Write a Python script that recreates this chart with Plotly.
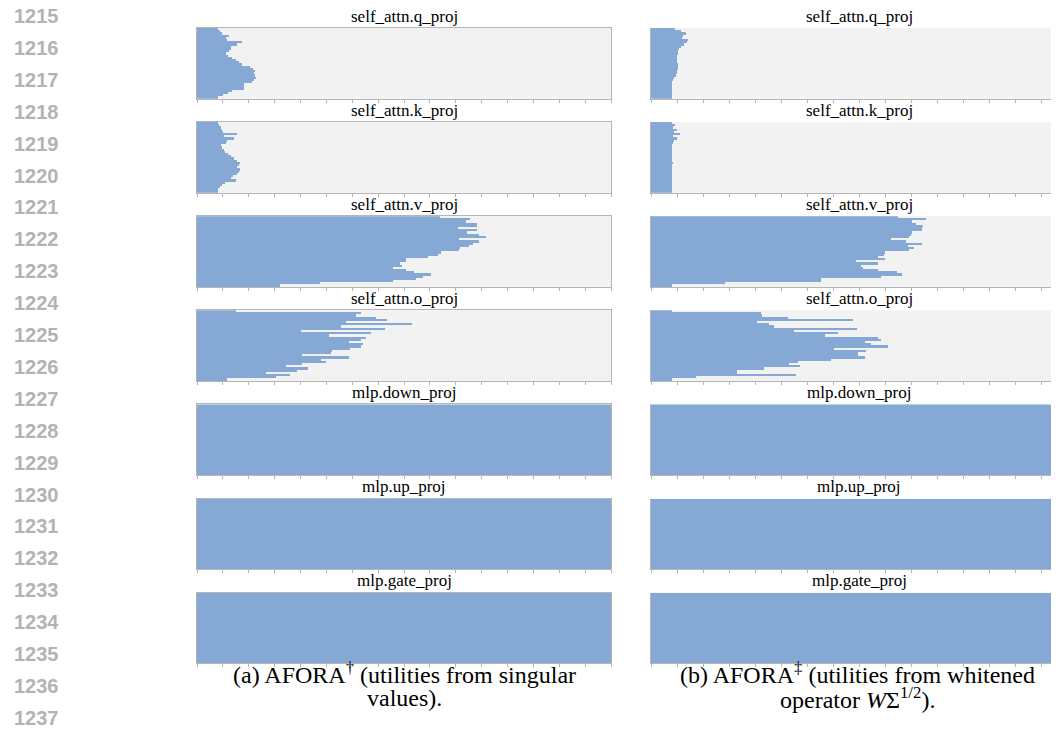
import plotly.graph_objects as go

# The page puts the figure 8 px in from the top-left corner of the window,
# so the figure is 8 px smaller than the window and all pixel positions are shifted by 8.
W, H = 1051, 732
OFF = 8

layers = list(range(32))
titles = ["self_attn.q_proj", "self_attn.k_proj", "self_attn.v_proj", "self_attn.o_proj",
          "mlp.down_proj", "mlp.up_proj", "mlp.gate_proj"]

# fraction of the full rank budget (mlp modules keep the full budget)
left_q = [0.051, 0.056, 0.060, 0.078, 0.071, 0.072, 0.109, 0.097, 0.082, 0.082, 0.077, 0.071,
          0.074, 0.085, 0.093, 0.101, 0.109, 0.129, 0.135, 0.141, 0.137, 0.141, 0.143, 0.137,
          0.133, 0.114, 0.113, 0.113, 0.085, 0.074, 0.063, 0.051]
left_k = [0.051, 0.053, 0.058, 0.060, 0.063, 0.097, 0.066, 0.089, 0.072, 0.071, 0.058, 0.060,
          0.064, 0.068, 0.074, 0.082, 0.089, 0.097, 0.103, 0.101, 0.097, 0.105, 0.101, 0.097,
          0.087, 0.082, 0.093, 0.067, 0.060, 0.055, 0.051, 0.051]
left_v = [0.586, 0.660, 0.649, 0.676, 0.676, 0.630, 0.676, 0.652, 0.680, 0.699, 0.633, 0.680,
          0.667, 0.657, 0.636, 0.634, 0.590, 0.582, 0.558, 0.504, 0.504, 0.491, 0.496, 0.473,
          0.504, 0.523, 0.566, 0.546, 0.528, 0.473, 0.296, 0.200]
left_o = [0.093, 0.397, 0.385, 0.433, 0.460, 0.359, 0.519, 0.349, 0.453, 0.250, 0.421, 0.320,
          0.409, 0.397, 0.367, 0.401, 0.397, 0.370, 0.327, 0.324, 0.254, 0.367, 0.300, 0.311,
          0.254, 0.216, 0.268, 0.242, 0.167, 0.225, 0.190, 0.072]
right_q = [0.058, 0.072, 0.083, 0.078, 0.074, 0.088, 0.086, 0.080, 0.072, 0.067, 0.066, 0.064,
           0.0625, 0.062, 0.0625, 0.062, 0.066, 0.066, 0.066, 0.0625, 0.0625, 0.059, 0.056, 0.054,
           0.050, 0.050, 0.050, 0.050, 0.050, 0.050, 0.050, 0.050]
right_k = [0.050, 0.058, 0.054, 0.062, 0.056, 0.070, 0.054, 0.062, 0.056, 0.054, 0.050, 0.050,
           0.050, 0.050, 0.050, 0.050, 0.050, 0.050, 0.054, 0.050, 0.050, 0.050, 0.050, 0.050,
           0.050, 0.050, 0.050, 0.050, 0.050, 0.050, 0.050, 0.050]
right_v = [0.593, 0.660, 0.627, 0.636, 0.655, 0.651, 0.651, 0.627, 0.625, 0.619, 0.577, 0.612,
           0.651, 0.617, 0.631, 0.620, 0.563, 0.561, 0.546, 0.563, 0.492, 0.546, 0.505, 0.510,
           0.546, 0.591, 0.604, 0.554, 0.409, 0.409, 0.179, 0.050]
right_o = [0.050, 0.264, 0.268, 0.330, 0.486, 0.254, 0.284, 0.296, 0.494, 0.344, 0.449, 0.418,
           0.545, 0.553, 0.514, 0.530, 0.569, 0.441, 0.518, 0.498, 0.498, 0.514, 0.433, 0.354,
           0.332, 0.358, 0.272, 0.206, 0.206, 0.348, 0.108, 0.050]
mlp_full = [1.0, 1.0, 1.0, 1.0, 1.0, 1.0, 1.0, 1.0, 1.0, 1.0, 1.0, 1.0, 1.0, 1.0, 1.0, 1.0,
            1.0, 1.0, 1.0, 1.0, 1.0, 1.0, 1.0, 1.0, 1.0, 1.0, 1.0, 1.0, 1.0, 1.0, 1.0, 1.0]

left_series = [left_q, left_k, left_v, left_o, mlp_full, mlp_full, mlp_full]
right_series = [right_q, right_k, right_v, right_o, mlp_full, mlp_full, mlp_full]

tick_vals = [0, 0.0625, 0.125, 0.1875, 0.25, 0.3125, 0.375, 0.4375, 0.5, 0.5625, 0.625,
             0.6875, 0.75, 0.8125, 0.875, 0.9375, 1.0]

caption_a = ["(a) AFORA<sup>†</sup> (utilities from singular", "values)."]
caption_b = ["(b) AFORA<sup>‡</sup> (utilities from whitened", "operator <i>W</i>Σ<sup>1/2</sup>)."]
line_numbers = list(range(1215, 1238))

BAR = "#86A8D5"
EDGE = "#B5B5B5"
SERIF = "Liberation Serif, Times New Roman, serif"


def px(x):
    return (x - OFF) / W


def py(y):
    return 1 - (y - OFF) / H


fig = go.Figure()
layout = dict(width=W, height=H, margin=dict(l=0, r=0, t=0, b=0),
              paper_bgcolor="white", plot_bgcolor="#F2F2F2", showlegend=False,
              bargap=0)
annotations = []

cols = [
    dict(x0=197, x1=611, full=414, series=left_series, mirror=True),
    dict(x0=651, x1=1059, full=416, series=right_series, mirror=False),
]

n = 0
for c, col in enumerate(cols):
    for k in range(7):
        n += 1
        top = 28 + 94.1 * k
        bot = top + 70.7
        xa = "xaxis" if n == 1 else f"xaxis{n}"
        ya = "yaxis" if n == 1 else f"yaxis{n}"
        xref = "x" if n == 1 else f"x{n}"
        yref = "y" if n == 1 else f"y{n}"
        fig.add_trace(go.Bar(x=col["series"][k], y=layers, orientation="h",
                             xaxis=xref, yaxis=yref, width=1.0,
                             marker=dict(color=BAR, line=dict(width=0)),
                             hoverinfo="skip"))
        layout[xa] = dict(domain=[px(col["x0"]), min(px(col["x1"]), 1.0)],
                          range=[0, (col["x1"] - col["x0"]) / col["full"]],
                          anchor=yref, showline=True, linecolor=EDGE, linewidth=1,
                          mirror=col["mirror"], ticks="outside", ticklen=3, tickwidth=1,
                          tickcolor=EDGE, tickvals=tick_vals, showticklabels=False,
                          showgrid=False, zeroline=False, fixedrange=True)
        layout[ya] = dict(domain=[py(bot), py(top)], range=[31.5, -0.5],
                          anchor=xref, showline=True, linecolor=EDGE, linewidth=1,
                          mirror=col["mirror"], ticks="", showticklabels=False,
                          showgrid=False, zeroline=False, fixedrange=True)
        cx = (col["x0"] + col["x0"] + col["full"]) / 2
        annotations.append(dict(text=titles[k], x=px(cx), y=py(16 + 94.1 * k),
                                xref="paper", yref="paper", xanchor="center", yanchor="middle",
                                showarrow=False, font=dict(family=SERIF, size=17, color="black")))

for cx, cap in [(404, caption_a), (857, caption_b)]:
    for j, line in enumerate(cap):
        annotations.append(dict(text=line, x=px(cx), y=py(673 + 25 * j),
                                xref="paper", yref="paper", xanchor="center", yanchor="middle",
                                showarrow=False, font=dict(family=SERIF, size=24, color="black")))

for i, num in enumerate(line_numbers):
    annotations.append(dict(text=str(num), x=px(12), y=py(16 + 31.9 * i),
                            xref="paper", yref="paper", xanchor="left", yanchor="middle",
                            showarrow=False,
                            font=dict(family="Liberation Sans, Arial, sans-serif", size=20,
                                      color="#B3B3B3", weight="bold")))

layout["annotations"] = annotations
fig.update_layout(**layout)
fig.write_html("out.html")
